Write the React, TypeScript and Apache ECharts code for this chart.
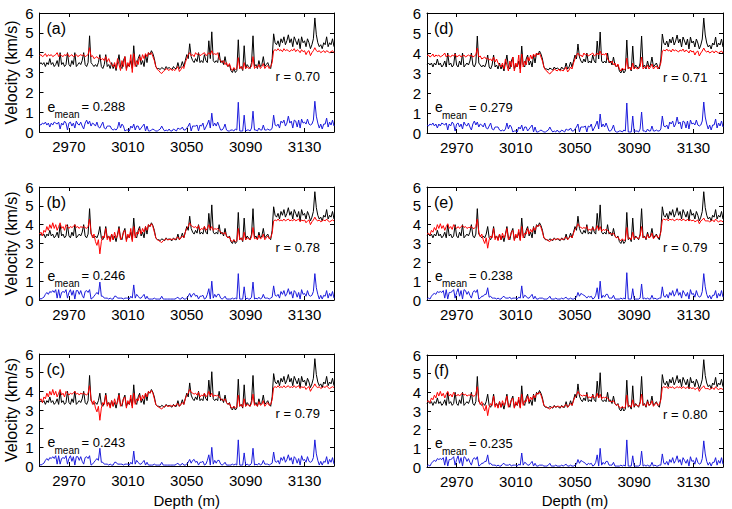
import React, { useEffect, useRef } from "react";
import * as echarts from "echarts";

// Depth sampling: 2950 m to 3150 m, one sample per metre
const depthStart = 2950;
const depthStep = 1;

// Measured velocity (km/s), shared by all panels
const measured = [
  3.4, 3.5, 3.4, 3.5, 3.3, 3.5, 3.4, 3.7, 3.4, 3.5,
  3.3, 3.4, 3.6, 3.3, 4.0, 3.4, 3.5, 3.3, 3.4, 4.0,
  3.4, 3.3, 3.6, 3.4, 4.0, 3.3, 3.4, 3.5, 3.4, 3.6,
  4.0, 3.4, 3.3, 3.5, 4.85, 3.5, 3.4, 3.3, 3.4, 3.3,
  3.5, 3.9, 3.3, 3.2, 3.4, 3.9, 3.3, 3.4, 3.2, 3.5,
  3.2, 3.4, 3.1, 3.5, 3.9, 3.3, 3.2, 3.6, 3.8, 3.2,
  3.4, 3.3, 3.6, 3.2, 4.35, 3.4, 3.3, 3.7, 3.9, 3.4,
  3.6, 3.3, 3.9, 3.5, 4.0, 3.9, 4.1, 3.95, 3.7, 3.3,
  3.2, 3.2, 3.15, 3.25, 3.2, 3.15, 3.3, 3.2, 3.25, 3.2,
  3.15, 3.3, 3.2, 3.2, 3.5, 3.2, 3.3, 3.55, 3.3, 3.6,
  3.9, 3.7, 4.45, 3.8, 3.6, 3.5, 3.7, 3.55, 4.0, 3.5,
  3.6, 3.5, 3.9, 3.6, 3.5, 4.6, 3.7, 5.05, 3.6, 3.5,
  3.6, 3.5, 4.0, 3.5, 3.6, 3.4, 3.8, 3.4, 3.3, 3.4,
  3.1, 3.0, 3.2, 3.0, 3.1, 4.65, 3.2, 3.3, 3.1, 4.35,
  3.2, 3.4, 3.3, 3.2, 3.5, 4.85, 3.3, 3.4, 3.2, 3.6,
  3.3, 3.4, 3.8, 3.3, 3.4, 3.5, 3.3, 3.2, 3.7, 4.95,
  4.5, 4.4, 4.6, 4.3, 4.7, 4.5, 4.8, 4.4, 4.6, 4.9,
  4.5, 4.7, 4.3, 4.8, 4.6, 4.4, 4.7, 4.2, 4.8, 4.5,
  4.6, 4.3, 4.7, 4.5, 4.2, 4.4, 4.7, 5.75, 4.9, 4.5,
  4.3, 4.4, 4.2, 4.5, 4.4, 4.8, 4.3, 4.5, 4.4, 4.7,
  4.3,
];

// Predicted velocity, panels (a) and (d)
const predictedAD = [
  3.85, 3.9, 3.8, 3.85, 3.95, 3.8, 3.9, 3.85, 3.9, 3.8,
  3.85, 3.9, 4.0, 3.8, 3.9, 3.85, 3.8, 3.9, 3.85, 3.95,
  3.8, 3.85, 3.9, 3.8, 3.85, 3.9, 3.8, 3.85, 3.9, 3.85,
  3.9, 3.8, 3.85, 3.9, 4.25, 3.8, 3.85, 3.7, 3.75, 3.8,
  3.7, 3.75, 3.65, 3.7, 3.6, 3.8, 3.55, 3.7, 3.5, 3.4,
  3.3, 3.5, 3.2, 3.7, 3.4, 3.1, 3.6, 3.3, 3.8, 3.1,
  3.5, 3.3, 3.9, 3.0, 3.95, 3.3, 3.6, 3.4, 3.8, 3.6,
  3.9, 3.7, 3.95, 3.8, 4.0, 3.9, 4.0, 3.8, 3.6, 3.3,
  3.15, 3.1, 3.0, 2.95, 3.05, 3.1, 3.2, 3.15, 3.1, 3.2,
  3.1, 3.15, 3.1, 3.2, 3.3, 3.05, 3.15, 3.3, 3.2, 3.5,
  3.7, 3.9, 4.0, 3.85, 3.9, 3.8, 4.0, 3.9, 3.95, 3.85,
  3.9, 3.95, 4.0, 3.85, 3.9, 4.0, 3.9, 4.1, 3.9, 3.95,
  3.9, 4.0, 3.7, 3.6, 3.5, 3.6, 3.4, 3.5, 3.3, 3.45,
  3.2, 3.1, 3.25, 3.15, 3.2, 3.75, 3.2, 3.3, 3.15, 3.5,
  3.2, 3.3, 3.2, 3.25, 3.3, 3.8, 3.2, 3.3, 3.25, 3.4,
  3.2, 3.3, 3.45, 3.2, 3.3, 3.35, 3.2, 3.3, 3.5, 4.1,
  4.15, 4.1, 4.2, 4.1, 4.15, 4.05, 4.2, 4.1, 4.15, 4.1,
  4.05, 4.15, 4.1, 4.2, 4.05, 4.15, 4.1, 4.0, 4.15, 4.05,
  4.1, 3.9, 4.05, 4.1, 3.85, 4.0, 4.1, 4.25, 4.1, 4.05,
  4.1, 4.0, 4.05, 4.1, 4.0, 4.1, 4.05, 4.0, 4.05, 4.1,
  4.0,
];

// Predicted velocity, panels (b) and (c)
const predictedBC = [
  3.5, 3.6, 3.4, 3.7, 3.6, 3.9, 3.7, 4.0, 3.8, 4.1,
  3.8, 4.0, 3.7, 3.9, 4.1, 3.8, 3.9, 3.7, 4.0, 3.9,
  3.8, 3.9, 3.85, 3.9, 4.0, 3.85, 3.9, 3.8, 3.9, 3.85,
  3.9, 3.85, 3.8, 3.9, 4.3, 3.6, 3.3, 3.5, 3.1, 2.9,
  3.2, 2.45, 3.1, 3.4, 3.3, 3.8, 3.2, 3.4, 3.1, 3.5,
  3.2, 3.6, 3.3, 3.4, 3.8, 3.2, 3.3, 3.6, 3.7, 3.1,
  3.5, 3.3, 3.8, 3.1, 3.9, 3.3, 3.6, 3.5, 3.8, 3.5,
  3.8, 3.6, 3.9, 3.7, 4.0, 3.9, 4.05, 3.9, 3.6, 3.3,
  3.2, 3.15, 3.1, 3.05, 3.15, 3.2, 3.25, 3.2, 3.2, 3.25,
  3.2, 3.25, 3.2, 3.3, 3.35, 3.2, 3.3, 3.4, 3.3, 3.6,
  3.8, 3.9, 4.1, 3.95, 3.9, 3.85, 3.9, 3.8, 3.95, 3.7,
  3.8, 3.75, 3.9, 3.7, 3.8, 4.0, 3.75, 3.9, 3.7, 3.8,
  3.75, 3.8, 3.7, 3.6, 3.55, 3.5, 3.6, 3.4, 3.3, 3.35,
  3.15, 3.1, 3.2, 3.1, 3.15, 3.8, 3.2, 3.3, 3.15, 3.6,
  3.2, 3.3, 3.25, 3.2, 3.35, 3.85, 3.25, 3.3, 3.2, 3.45,
  3.25, 3.3, 3.5, 3.2, 3.3, 3.4, 3.25, 3.3, 3.55, 4.2,
  4.25, 4.2, 4.3, 4.2, 4.25, 4.2, 4.3, 4.2, 4.25, 4.3,
  4.2, 4.25, 4.2, 4.3, 4.2, 4.25, 4.3, 4.15, 4.25, 4.2,
  4.25, 4.1, 4.2, 4.25, 4.0, 4.15, 4.25, 4.4, 4.25, 4.2,
  4.25, 4.15, 4.2, 4.25, 4.2, 4.3, 4.2, 4.15, 4.2, 4.25,
  4.2,
];

// Predicted velocity, panels (e) and (f)
const predictedEF = [
  3.5, 3.55, 3.45, 3.7, 3.6, 3.85, 3.7, 4.0, 3.8, 4.05,
  3.8, 3.95, 3.7, 3.9, 4.05, 3.8, 3.9, 3.75, 4.0, 3.9,
  3.8, 3.9, 3.8, 3.9, 3.95, 3.85, 3.9, 3.8, 3.85, 3.85,
  3.9, 3.8, 3.8, 3.9, 4.3, 3.6, 3.35, 3.5, 3.2, 3.0,
  3.3, 2.75, 3.2, 3.4, 3.3, 3.8, 3.2, 3.4, 3.15, 3.5,
  3.2, 3.55, 3.3, 3.45, 3.8, 3.2, 3.35, 3.6, 3.7, 3.15,
  3.5, 3.3, 3.75, 3.15, 3.9, 3.3, 3.55, 3.5, 3.8, 3.5,
  3.75, 3.6, 3.85, 3.7, 3.95, 3.9, 4.0, 3.85, 3.6, 3.3,
  3.25, 3.2, 3.15, 3.1, 3.2, 3.2, 3.25, 3.2, 3.25, 3.25,
  3.2, 3.25, 3.2, 3.3, 3.35, 3.2, 3.3, 3.4, 3.3, 3.55,
  3.75, 3.85, 4.05, 3.9, 3.85, 3.8, 3.85, 3.8, 3.9, 3.7,
  3.75, 3.7, 3.85, 3.7, 3.75, 3.95, 3.7, 3.9, 3.65, 3.75,
  3.7, 3.75, 3.7, 3.6, 3.5, 3.5, 3.55, 3.4, 3.3, 3.35,
  3.2, 3.15, 3.25, 3.15, 3.2, 3.85, 3.25, 3.3, 3.2, 3.6,
  3.25, 3.35, 3.3, 3.25, 3.4, 3.9, 3.3, 3.35, 3.25, 3.5,
  3.3, 3.35, 3.55, 3.25, 3.35, 3.45, 3.3, 3.35, 3.6, 4.25,
  4.3, 4.25, 4.3, 4.2, 4.3, 4.25, 4.3, 4.2, 4.25, 4.3,
  4.25, 4.3, 4.2, 4.3, 4.25, 4.2, 4.3, 4.2, 4.25, 4.2,
  4.25, 4.15, 4.2, 4.25, 4.05, 4.2, 4.25, 4.35, 4.2, 4.2,
  4.2, 4.15, 4.2, 4.25, 4.15, 4.3, 4.2, 4.15, 4.2, 4.2,
  4.15,
];

// Absolute error, panels (a) and (d)
const errorAD = [
  0.4, 0.35, 0.45, 0.4, 0.5, 0.35, 0.45, 0.25, 0.45, 0.35,
  0.5, 0.45, 0.4, 0.5, 0.15, 0.45, 0.35, 0.55, 0.45, 0.1,
  0.45, 0.5, 0.3, 0.45, 0.2, 0.55, 0.4, 0.35, 0.5, 0.3,
  0.15, 0.45, 0.6, 0.4, 0.55, 0.3, 0.45, 0.4, 0.3, 0.5,
  0.25, 0.2, 0.35, 0.5, 0.2, 0.15, 0.3, 0.3, 0.3, 0.15,
  0.1, 0.15, 0.1, 0.2, 0.5, 0.2, 0.4, 0.3, 0.05, 0.1,
  0.1, 0.05, 0.3, 0.2, 0.4, 0.1, 0.3, 0.3, 0.1, 0.2,
  0.3, 0.4, 0.05, 0.3, 0.05, 0.05, 0.1, 0.15, 0.1, 0.05,
  0.05, 0.1, 0.15, 0.3, 0.15, 0.05, 0.1, 0.05, 0.15, 0.05,
  0.05, 0.15, 0.1, 0.05, 0.2, 0.15, 0.15, 0.25, 0.1, 0.1,
  0.2, 0.3, 0.45, 0.05, 0.3, 0.3, 0.3, 0.35, 0.05, 0.35,
  0.3, 0.45, 0.1, 0.25, 0.4, 0.6, 0.2, 0.95, 0.3, 0.45,
  0.3, 0.5, 0.3, 0.1, 0.1, 0.2, 0.4, 0.1, 0.05, 0.05,
  0.1, 0.1, 0.05, 0.15, 0.1, 1.5, 0.05, 0.05, 0.05, 0.85,
  0.05, 0.1, 0.1, 0.05, 0.2, 1.05, 0.1, 0.1, 0.05, 0.2,
  0.1, 0.1, 0.35, 0.1, 0.1, 0.15, 0.1, 0.1, 0.2, 0.85,
  0.35, 0.3, 0.4, 0.2, 0.55, 0.45, 0.6, 0.3, 0.45, 0.8,
  0.45, 0.55, 0.2, 0.6, 0.55, 0.25, 0.6, 0.2, 0.65, 0.45,
  0.5, 0.4, 0.65, 0.4, 0.35, 0.4, 0.6, 1.55, 0.8, 0.45,
  0.2, 0.4, 0.15, 0.4, 0.4, 0.7, 0.25, 0.5, 0.35, 0.6,
  0.3,
];

// Absolute error, panels (b) and (c)
const errorBC = [
  0.1, 0.05, 0.1, 0.15, 0.3, 0.4, 0.3, 0.45, 0.4, 0.5,
  0.4, 0.55, 0.1, 0.55, 0.1, 0.4, 0.45, 0.4, 0.55, 0.1,
  0.4, 0.55, 0.25, 0.5, 0.05, 0.5, 0.5, 0.3, 0.5, 0.25,
  0.1, 0.45, 0.5, 0.4, 0.55, 0.05, 0.1, 0.2, 0.3, 0.4,
  0.3, 0.95, 0.2, 0.2, 0.1, 0.1, 0.1, 0.05, 0.1, 0.05,
  0.05, 0.2, 0.2, 0.1, 0.1, 0.1, 0.1, 0.05, 0.1, 0.1,
  0.1, 0.05, 0.2, 0.1, 0.8, 0.1, 0.3, 0.2, 0.1, 0.1,
  0.2, 0.3, 0.05, 0.2, 0.05, 0.05, 0.05, 0.05, 0.1, 0.05,
  0.05, 0.05, 0.05, 0.2, 0.05, 0.05, 0.05, 0.05, 0.05, 0.05,
  0.05, 0.05, 0.05, 0.1, 0.15, 0.05, 0.05, 0.15, 0.05, 0.05,
  0.1, 0.2, 0.35, 0.15, 0.3, 0.35, 0.2, 0.25, 0.05, 0.2,
  0.2, 0.25, 0.05, 0.1, 0.3, 0.6, 0.05, 1.0, 0.1, 0.3,
  0.15, 0.3, 0.3, 0.1, 0.05, 0.1, 0.2, 0.05, 0.05, 0.05,
  0.05, 0.1, 0.05, 0.1, 0.05, 1.4, 0.05, 0.05, 0.05, 0.7,
  0.05, 0.1, 0.05, 0.05, 0.15, 0.95, 0.05, 0.1, 0.05, 0.15,
  0.05, 0.1, 0.3, 0.1, 0.1, 0.1, 0.05, 0.1, 0.15, 0.75,
  0.25, 0.2, 0.3, 0.1, 0.45, 0.3, 0.5, 0.2, 0.35, 0.6,
  0.3, 0.45, 0.1, 0.5, 0.4, 0.15, 0.4, 0.05, 0.55, 0.3,
  0.35, 0.2, 0.5, 0.25, 0.2, 0.25, 0.45, 1.4, 0.65, 0.3,
  0.05, 0.25, 0.05, 0.25, 0.2, 0.5, 0.1, 0.35, 0.2, 0.45,
  0.1,
];

// Absolute error, panels (e) and (f)
const errorEF = [
  0.05, 0.1, 0.05, 0.2, 0.3, 0.35, 0.3, 0.45, 0.4, 0.45,
  0.4, 0.5, 0.1, 0.55, 0.05, 0.4, 0.4, 0.45, 0.55, 0.1,
  0.4, 0.6, 0.2, 0.5, 0.05, 0.55, 0.5, 0.3, 0.45, 0.25,
  0.1, 0.4, 0.5, 0.4, 0.55, 0.05, 0.1, 0.2, 0.2, 0.3,
  0.3, 0.65, 0.15, 0.2, 0.1, 0.1, 0.1, 0.05, 0.1, 0.05,
  0.05, 0.15, 0.2, 0.1, 0.1, 0.1, 0.15, 0.05, 0.1, 0.1,
  0.1, 0.05, 0.15, 0.1, 0.75, 0.1, 0.25, 0.2, 0.1, 0.1,
  0.2, 0.3, 0.05, 0.2, 0.05, 0.05, 0.1, 0.1, 0.1, 0.05,
  0.05, 0.05, 0.1, 0.2, 0.05, 0.05, 0.05, 0.1, 0.05, 0.05,
  0.05, 0.1, 0.05, 0.1, 0.15, 0.05, 0.05, 0.1, 0.05, 0.05,
  0.1, 0.15, 0.4, 0.2, 0.35, 0.3, 0.25, 0.2, 0.1, 0.2,
  0.15, 0.2, 0.05, 0.1, 0.25, 0.65, 0.05, 1.0, 0.1, 0.25,
  0.15, 0.3, 0.3, 0.1, 0.1, 0.1, 0.25, 0.05, 0.05, 0.05,
  0.05, 0.1, 0.05, 0.1, 0.05, 1.45, 0.05, 0.05, 0.05, 0.6,
  0.05, 0.05, 0.05, 0.05, 0.1, 0.85, 0.05, 0.1, 0.05, 0.1,
  0.05, 0.05, 0.25, 0.05, 0.1, 0.05, 0.05, 0.1, 0.1, 0.7,
  0.2, 0.15, 0.3, 0.1, 0.4, 0.25, 0.5, 0.2, 0.35, 0.6,
  0.25, 0.4, 0.1, 0.5, 0.35, 0.2, 0.4, 0.05, 0.55, 0.3,
  0.35, 0.15, 0.5, 0.25, 0.15, 0.2, 0.45, 1.4, 0.7, 0.3,
  0.1, 0.25, 0.05, 0.25, 0.25, 0.5, 0.1, 0.35, 0.2, 0.5,
  0.15,
];

const xTickValues = [2970, 3010, 3050, 3090, 3130];
const panelTags = ["(a)", "(b)", "(c)", "(d)", "(e)", "(f)"];
const rLabels = ["0.70", "0.78", "0.79", "0.71", "0.79", "0.80"];
const eMeanLabels = ["0.288", "0.246", "0.243", "0.279", "0.238", "0.235"];
const panelPredicted = [predictedAD, predictedBC, predictedBC, predictedAD, predictedEF, predictedEF];
const panelError = [errorAD, errorBC, errorBC, errorAD, errorEF, errorEF];

// Layout (pixels)
const grids = [
  { left: 39.5, top: 13, width: 294.5, height: 119 },
  { left: 39.5, top: 187, width: 294.5, height: 113 },
  { left: 39.5, top: 354, width: 294.5, height: 112 },
  { left: 427, top: 13, width: 296, height: 120 },
  { left: 427, top: 187, width: 296, height: 113 },
  { left: 427, top: 355, width: 296, height: 112 },
];

const FONT = "'Liberation Sans', Arial, Helvetica, sans-serif";

function pairs(values: number[]) {
  return values.map((v, i) => [depthStart + i * depthStep, v]);
}

export default function App() {
  const ref = useRef<HTMLDivElement>(null);

  useEffect(() => {
    if (!ref.current) return;
    const chart = echarts.init(ref.current, null, { renderer: "svg" });

    const xAxes: any[] = [];
    const yAxes: any[] = [];
    const series: any[] = [];
    const graphics: any[] = [];

    grids.forEach((g, i) => {
      const tick = { inside: true, length: 4, lineStyle: { color: "#000", width: 1 } };
      xAxes.push({
        gridIndex: i, type: "value", min: 2950, max: 3150, position: "bottom",
        axisLine: { show: true, onZero: false, lineStyle: { color: "#000", width: 1 } },
        axisTick: { ...tick, customValues: xTickValues },
        axisLabel: { customValues: xTickValues, color: "#000", fontSize: 15, fontFamily: FONT, margin: 7, formatter: (v: number) => String(v) },
        splitLine: { show: false },
      });
      xAxes.push({
        gridIndex: i, type: "value", min: 2950, max: 3150, position: "top",
        axisLine: { show: true, onZero: false, lineStyle: { color: "#000", width: 1 } },
        axisTick: { ...tick, customValues: xTickValues },
        axisLabel: { show: false },
        splitLine: { show: false },
      });
      yAxes.push({
        gridIndex: i, type: "value", min: 0, max: 6, interval: 1, position: "left",
        axisLine: { show: true, onZero: false, lineStyle: { color: "#000", width: 1 } },
        axisTick: tick,
        axisLabel: { color: "#000", fontSize: 15, fontFamily: FONT, margin: 6 },
        splitLine: { show: false },
      });
      yAxes.push({
        gridIndex: i, type: "value", min: 0, max: 6, interval: 1, position: "right",
        axisLine: { show: true, onZero: false, lineStyle: { color: "#000", width: 1 } },
        axisTick: tick,
        axisLabel: { show: false },
        splitLine: { show: false },
      });

      const common = { type: "line", xAxisIndex: 2 * i, yAxisIndex: 2 * i, showSymbol: false, symbol: "none", silent: true };
      series.push({ ...common, name: "measured", data: pairs(measured), lineStyle: { color: "#000000", width: 1 } });
      series.push({ ...common, name: "predicted", data: pairs(panelPredicted[i]), lineStyle: { color: "#ff0000", width: 1 } });
      series.push({ ...common, name: "error", data: pairs(panelError[i]), lineStyle: { color: "#1c1cdc", width: 1 } });

      const yOf = (v: number) => g.top + g.height * (6 - v) / 6;
      graphics.push({ type: "text", x: g.left + 7, y: g.top + 15, style: { text: panelTags[i], font: `16px ${FONT}`, fill: "#000", textVerticalAlign: "middle" } });
      graphics.push({ type: "text", x: g.left + 236, y: yOf(2.8), style: { text: "r = " + rLabels[i], font: `13px ${FONT}`, fill: "#000", textVerticalAlign: "middle" } });
      graphics.push({ type: "text", x: g.left + 8, y: yOf(1.28), style: { text: "e", font: `14px ${FONT}`, fill: "#000", textVerticalAlign: "middle" } });
      graphics.push({ type: "text", x: g.left + 15, y: yOf(1.28) + 8, style: { text: "mean", font: `10px ${FONT}`, fill: "#000", textVerticalAlign: "middle" } });
      graphics.push({ type: "text", x: g.left + 42, y: yOf(1.28), style: { text: "= " + eMeanLabels[i], font: `13px ${FONT}`, fill: "#000", textVerticalAlign: "middle" } });
      if (i < 3) {
        graphics.push({ type: "text", x: 11, y: g.top + g.height / 2, rotation: Math.PI / 2, style: { text: "Velocity (km/s)", font: `16px ${FONT}`, fill: "#000", textAlign: "center", textVerticalAlign: "middle" } });
      }
      if (i === 2 || i === 5) {
        graphics.push({ type: "text", x: g.left + g.width / 2, y: 500, style: { text: "Depth (m)", font: `15px ${FONT}`, fill: "#000", textAlign: "center", textVerticalAlign: "middle" } });
      }
    });

    chart.setOption({
      animation: false,
      backgroundColor: "#ffffff",
      grid: grids.map((g) => ({ ...g, containLabel: false, show: false })),
      xAxis: xAxes,
      yAxis: yAxes,
      series,
      graphic: graphics,
    });

    return () => chart.dispose();
  }, []);

  return <div ref={ref} style={{ position: "fixed", left: 0, top: 0, width: 732, height: 509 }} />;
}
